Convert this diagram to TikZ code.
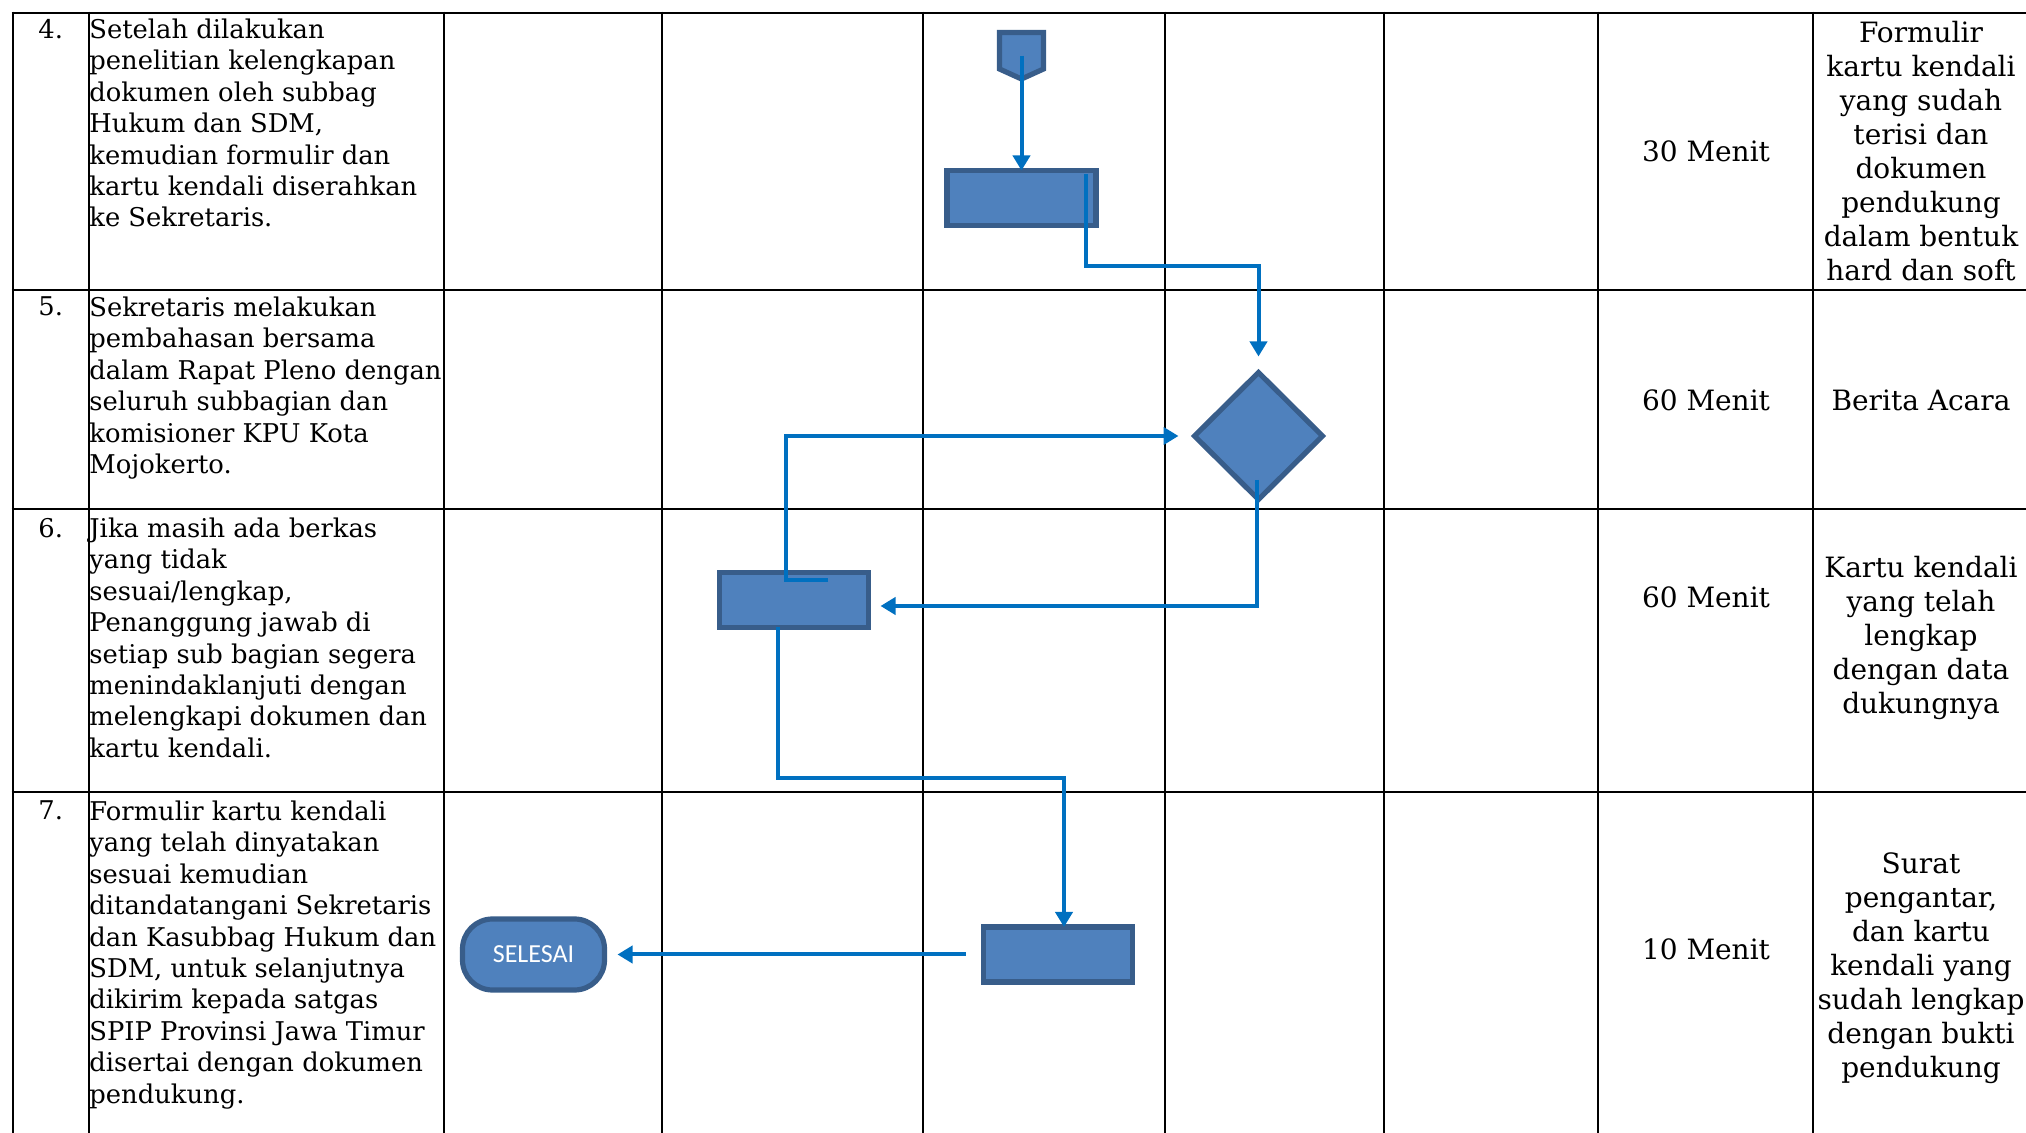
\documentclass[tikz,border=0pt]{standalone}
\usepackage{fontspec}
\setmainfont{DejaVu Serif}
\newfontfamily\selfont{Carlito}
\usetikzlibrary{shapes.geometric,arrows.meta,calc}
\definecolor{boxfill}{RGB}{79,129,189}
\definecolor{boxline}{RGB}{56,93,138}
\definecolor{connblue}{RGB}{0,112,192}
\tikzset{
 gridline/.style={line width=1.3pt, black},
 shp/.style={draw=boxline, fill=boxfill, line width=2.6pt},
 procbox/.style={shp, rectangle, minimum width=74.5pt, minimum height=27.5pt, inner sep=0, outer sep=0},
 decision/.style={shp, diamond, minimum width=64pt, minimum height=63.5pt, inner sep=0, outer sep=0, aspect=1},
 terminal/.style={shp, rectangle, rounded corners=15pt, minimum width=71pt, minimum height=35.5pt, inner sep=0, outer sep=0, text=white, font=\selfont\fontsize{13}{15}\selectfont},
 conn/.style={draw=connblue, line width=2pt},
 arr/.style={conn, -{Triangle[length=7.5pt,width=8.5pt]}},
 desc/.style={anchor=north west, align=left, inner sep=0, font=\fontsize{12.9}{15.7}\selectfont},
 num/.style={anchor=north west, inner sep=0, font=\fontsize{12.9}{15.7}\selectfont},
 dur/.style={anchor=center, inner sep=0, font=\fontsize{14}{17}\selectfont},
 outp/.style={anchor=north, align=center, inner sep=0, font=\fontsize{14}{17}\selectfont},
}
\begin{document}
\begin{tikzpicture}[x=0.5pt,y=-0.5pt]
\useasboundingbox (0,0) rectangle (2026,1133);
\clip (0,0) rectangle (2026,1133);
% table grid
\foreach \x in {13,89,444,662,923,1165,1384,1598,1813,2032}
  \draw[gridline] (\x,11.7) -- (\x,1140);
\foreach \y in {13,290,509,792}
  \draw[gridline] (11.7,\y) -- (2040,\y);
% shapes
\node[inner sep=0, outer sep=0, minimum width=22pt, minimum height=23.25pt] (pent) at (1021.5,55.75) {};
\draw[shp] (pent.north west) -- (pent.north east) -- ([yshift=5pt]pent.south east) -- (pent.south) -- ([yshift=5pt]pent.south west) -- cycle;
\node[procbox] (r1) at (1021.5,198) {};
\node[decision] (dia) at (1258.5,436) {};
\node[procbox] (r2) at (794,600) {};
\node[procbox] (r3) at (1058,954.5) {};
\node[terminal] (sel) at (533.5,954.5) {SELESAI};
% connectors
\draw[arr] (pent.center) -- (r1.north);
\draw[arr, shorten >=8pt] ([xshift=-5pt,yshift=-2pt]r1.north east) -- ++(0,92) -| (dia.north);
\draw[arr, shorten >=8pt] ([xshift=17pt,yshift=-3.75pt]r2.north) -- ++(-42,0) |- (dia.west);
\draw[arr] ([xshift=-1pt,yshift=-22pt]dia.center) |- ([xshift=6pt,yshift=-3pt]r2.east);
\draw[arr] ([xshift=-8pt]r2.south) -- ++(0,151) -| ([xshift=3pt]r3.north);
\draw[arr] ([xshift=-9pt]r3.west) -- ([xshift=6.5pt]sel.east);
% numbers
\node[num] (n4) at (38,18.5) {4.};
\node[num] (n5) at (38,296.5) {5.};
\node[num] (n6) at (38,517.5) {6.};
\node[num] (n7) at (38,800.5) {7.};
% descriptions
\node[desc] (d4) at (89,18.5) {Setelah dilakukan\\penelitian kelengkapan\\dokumen oleh subbag\\Hukum dan SDM,\\kemudian formulir dan\\kartu kendali diserahkan\\ke Sekretaris.};
\node[desc] (d5) at (89,296.5) {Sekretaris melakukan\\pembahasan bersama\\dalam Rapat Pleno dengan\\seluruh subbagian dan\\komisioner KPU Kota\\Mojokerto.};
\node[desc] (d6) at (89,517.5) {Jika masih ada berkas\\yang tidak\\sesuai/lengkap,\\Penanggung jawab di\\setiap sub bagian segera\\menindaklanjuti dengan\\melengkapi dokumen dan\\kartu kendali.};
\node[desc] (d7) at (89,800.5) {Formulir kartu kendali\\yang telah dinyatakan\\sesuai kemudian\\ditandatangani Sekretaris\\dan Kasubbag Hukum dan\\SDM, untuk selanjutnya\\dikirim kepada satgas\\SPIP Provinsi Jawa Timur\\disertai dengan dokumen\\pendukung.};
% durations
\node[dur] (t4) at (1706,151) {30 Menit};
\node[dur] (t5) at (1706,400) {60 Menit};
\node[dur] (t6) at (1706,597) {60 Menit};
\node[dur] (t7) at (1706,949) {10 Menit};
% outputs
\node[outp] (o4) at (1921,21) {Formulir\\kartu kendali\\yang sudah\\terisi dan\\dokumen\\pendukung\\dalam bentuk\\hard dan soft};
\node[dur] (o5) at (1921,400) {Berita Acara};
\node[outp] (o6) at (1921,555.5) {Kartu kendali\\yang telah\\lengkap\\dengan data\\dukungnya};
\node[outp] (o7) at (1921,852) {Surat\\pengantar,\\dan kartu\\kendali yang\\sudah lengkap\\dengan bukti\\pendukung};
\end{tikzpicture}
\end{document}
